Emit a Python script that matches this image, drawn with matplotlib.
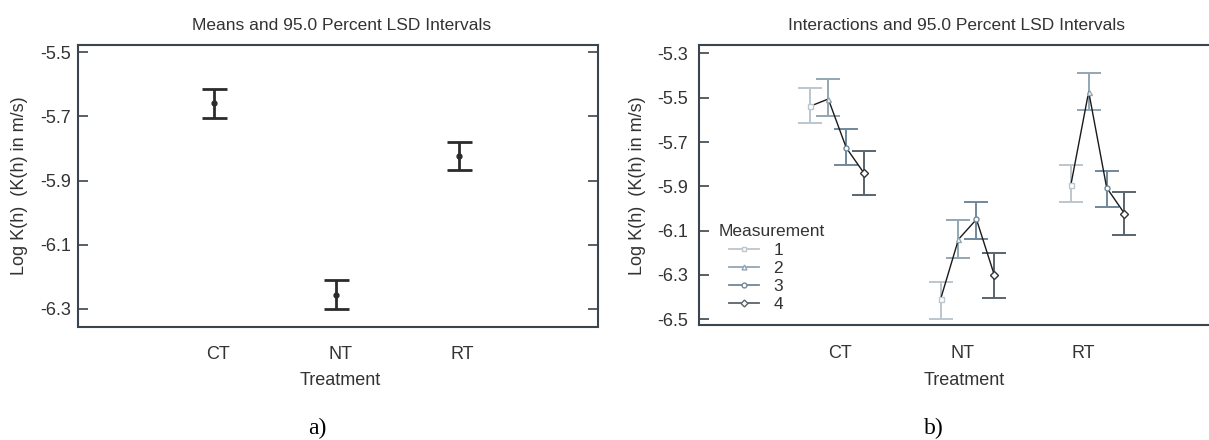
import matplotlib
matplotlib.use("Agg")
import matplotlib.pyplot as plt
from matplotlib.lines import Line2D
import numpy as np

plt.rcParams['font.family'] = ['Liberation Sans', 'DejaVu Sans']

# ---------------- data ----------------
treatments = ["CT", "NT", "RT"]

# panel a) : means and 95% LSD intervals
means_a = [-5.658, -6.256, -5.822]
lower_a = [-5.704, -6.301, -5.867]
upper_a = [-5.615, -6.210, -5.779]

# panel b) : interactions (treatment x measurement)
measurements = ["1", "2", "3", "4"]
means_b = {
    "1": [-5.538, -6.408, -5.894],
    "2": [-5.506, -6.139, -5.473],
    "3": [-5.726, -6.049, -5.906],
    "4": [-5.841, -6.300, -6.023],
}
lower_b = {
    "1": [-5.613, -6.497, -5.971],
    "2": [-5.583, -6.223, -5.554],
    "3": [-5.804, -6.136, -5.995],
    "4": [-5.939, -6.402, -6.121],
}
upper_b = {
    "1": [-5.458, -6.333, -5.805],
    "2": [-5.417, -6.052, -5.389],
    "3": [-5.640, -5.971, -5.830],
    "4": [-5.739, -6.199, -5.924],
}

yticks_a = [-5.5, -5.7, -5.9, -6.1, -6.3]
yticks_b = [-5.3, -5.5, -5.7, -5.9, -6.1, -6.3, -6.5]

# ---------------- styling ----------------
W, H = 1209, 440
fig = plt.figure(figsize=(W / 100, H / 100), dpi=100)

spine_col = "#3a4550"
txt_col = "#333333"
fs = 13

def fx(px):
    return px / W

def fy(py):
    return 1 - py / H

# ---------- panel a ----------
ax1 = fig.add_axes([fx(78), fy(326.5), fx(598) - fx(78), fy(45) - fy(326.5)])
xa = np.arange(1, len(treatments) + 1)
ma = np.array(means_a)
ax1.errorbar(xa, ma, yerr=[ma - np.array(lower_a), np.array(upper_a) - ma],
             fmt='o', ms=3.5, color="#2b2b2b", ecolor="#2b2b2b",
             elinewidth=2.0, capsize=9, capthick=2.0)
ax1.set_xlim(-0.11, 4.135)
ax1.set_ylim(-6.355, -5.477)
ax1.set_yticks(yticks_a)
ax1.set_yticklabels([f"{v:.1f}" for v in yticks_a])
ax1.set_xticks(xa + 0.03)
ax1.set_xticklabels(treatments)
ax1.tick_params(axis='x', length=0, pad=14, labelsize=fs, labelcolor=txt_col)
ax1.tick_params(axis='y', direction='in', length=7.5, width=1.2, color=spine_col,
                left=True, right=True, labelsize=fs, labelcolor=txt_col, pad=5)
for s in ax1.spines.values():
    s.set_color(spine_col)
    s.set_linewidth(1.5)

fig.text(fx(342), fy(25), "Means and 95.0 Percent LSD Intervals", ha='center', va='center',
         fontsize=fs - 0.5, color=txt_col)
fig.text(fx(20), fy(186), "Log K(h)  (K(h) in m/s)", rotation=90, ha='center', va='center',
         fontsize=fs, color=txt_col)
fig.text(fx(340), fy(380), "Treatment", ha='center', va='center', fontsize=fs, color=txt_col)
fig.text(fx(317), fy(428), "a)", ha='center', va='center', fontsize=17,
         family=['Liberation Serif', 'DejaVu Serif'], color='black')

# ---------- panel b ----------
ax2 = fig.add_axes([fx(699), fy(325.3), 1 - fx(699), fy(44.7) - fy(325.3)])
colors_b = {"1": "#bcc6ce", "2": "#95a6b3", "3": "#70889a", "4": "#5a646c"}
markers_b = {"1": "s", "2": "^", "3": "o", "4": "D"}
offsets = np.array([-0.206, -0.069, 0.069, 0.206])
xg = np.arange(1, len(treatments) + 1)

for k, m in enumerate(measurements):
    mm = np.array(means_b[m])
    lo = np.array(lower_b[m])
    up = np.array(upper_b[m])
    ax2.errorbar(xg + offsets[k], mm, yerr=[mm - lo, up - mm], fmt='none',
                 ecolor=colors_b[m], elinewidth=1.4, capsize=8.5, capthick=1.4, zorder=2)

for g in range(len(treatments)):
    xs = xg[g] + offsets
    ys = [means_b[m][g] for m in measurements]
    ax2.plot(xs, ys, color="#1a1a1a", lw=1.0, zorder=3)
    for k, m in enumerate(measurements):
        ax2.plot(xs[k], ys[k], marker=markers_b[m], ms=3.6, mfc='white',
                 mec=colors_b[m] if m != "4" else "#333333", mew=1.0, zorder=4)

ax2.set_xlim(-0.062, 3.855)
ax2.set_ylim(-6.527, -5.261)
ax2.set_yticks(yticks_b)
ax2.set_yticklabels([f"{v:.1f}" for v in yticks_b])
ax2.set_xticks([1.02, 1.96, 2.89])
ax2.set_xticklabels(treatments)
ax2.tick_params(axis='x', length=0, pad=14, labelsize=fs, labelcolor=txt_col)
ax2.tick_params(axis='y', direction='in', length=7.5, width=1.2, color=spine_col,
                labelsize=fs, labelcolor=txt_col, pad=8)
for s in ax2.spines.values():
    s.set_color(spine_col)
    s.set_linewidth(1.5)
ax2.spines['right'].set_visible(False)

handles = [Line2D([0], [0], color=colors_b[m], lw=1.3, marker=markers_b[m], ms=3.5,
                  mfc='white', mec=colors_b[m]) for m in measurements]
leg = fig.legend(handles, measurements, loc='upper left',
                 bbox_to_anchor=(fx(729), fy(243)), bbox_transform=fig.transFigure,
                 frameon=False, fontsize=12.5,
                 labelspacing=0.16, handlelength=1.75, handletextpad=0.8, borderpad=0,
                 borderaxespad=0)
for t in leg.get_texts():
    t.set_color(txt_col)
fig.text(fx(719), fy(232), "Measurement", ha='left', va='center', fontsize=12.5, color=txt_col)

fig.text(fx(957), fy(25), "Interactions and 95.0 Percent LSD Intervals", ha='center',
         va='center', fontsize=fs - 0.5, color=txt_col)
fig.text(fx(638), fy(186), "Log K(h)  (K(h) in m/s)", rotation=90, ha='center', va='center',
         fontsize=fs, color=txt_col)
fig.text(fx(964), fy(380), "Treatment", ha='center', va='center', fontsize=fs, color=txt_col)
fig.text(fx(934), fy(428), "b)", ha='center', va='center', fontsize=17,
         family=['Liberation Serif', 'DejaVu Serif'], color='black')

fig.savefig("out.png", dpi=100)
